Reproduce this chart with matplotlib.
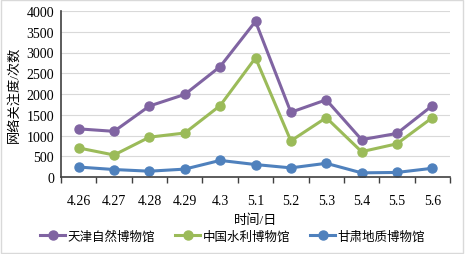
import numpy as np
import matplotlib
matplotlib.use("Agg")
import matplotlib.pyplot as plt

plt.rcParams['font.family'] = ['Liberation Serif', 'Noto Sans CJK SC']

dates = ["4.26", "4.27", "4.28", "4.29", "4.3", "5.1", "5.2", "5.3", "5.4", "5.5", "5.6"]
tianjin = [1160, 1100, 1710, 1990, 2660, 3750, 1560, 1860, 900, 1050, 1720]
shuili = [700, 530, 960, 1060, 1720, 2870, 870, 1430, 610, 800, 1430]
gansu = [240, 180, 140, 190, 400, 300, 220, 330, 100, 110, 210]

series = [
    ("天津自然博物馆", tianjin, "#8064A2"),
    ("中国水利博物馆", shuili, "#9BBB59"),
    ("甘肃地质博物馆", gansu, "#4F81BD"),
]

fig = plt.figure(figsize=(4.65, 2.55), dpi=100)
ax = fig.add_axes([61 / 465, 77 / 255, 389 / 465, 166 / 255])

x = np.arange(len(dates))
for name, vals, col in series:
    ax.plot(x, vals, color=col, lw=2.2, marker="o", ms=6.5, label=name)

ax.set_xlim(-0.5, len(dates) - 0.5)
ax.set_ylim(0, 4000)
ax.set_yticks(range(0, 4001, 500))
ax.set_xticks(x)
ax.set_xticklabels(dates)
ax.set_xticks(np.arange(-0.5, len(dates), 1), minor=True)
ax.tick_params(axis="x", which="major", length=0, pad=12, labelsize=10)
ax.tick_params(axis="x", which="minor", length=4, width=1, color="#404040", direction="out")
ax.tick_params(axis="y", length=0, pad=5, labelsize=10)
ax.grid(axis="y", color="#D9D9D9", lw=0.8)
ax.set_axisbelow(True)
for s in ["top", "right"]:
    ax.spines[s].set_visible(False)
ax.spines["left"].set_color("#404040")
ax.spines["bottom"].set_color("#404040")
ax.spines["left"].set_linewidth(1.2)
ax.spines["bottom"].set_linewidth(1.2)

ax.set_ylabel("网络关注度/次数", fontsize=9.5, labelpad=4)
ax.set_xlabel("时间/日", fontsize=9.5, labelpad=5)

fig.legend(loc="center", bbox_to_anchor=(0.5, 18 / 255), ncol=3,
           frameon=False, fontsize=9, handlelength=2.0, columnspacing=1.6,
           handletextpad=0.2)

fig.patches.append(plt.Rectangle((0.002, 0.004), 0.994, 0.992, transform=fig.transFigure,
                                 fill=False, edgecolor="#D9D9D9", lw=1))

fig.savefig("out.png", dpi=100)
